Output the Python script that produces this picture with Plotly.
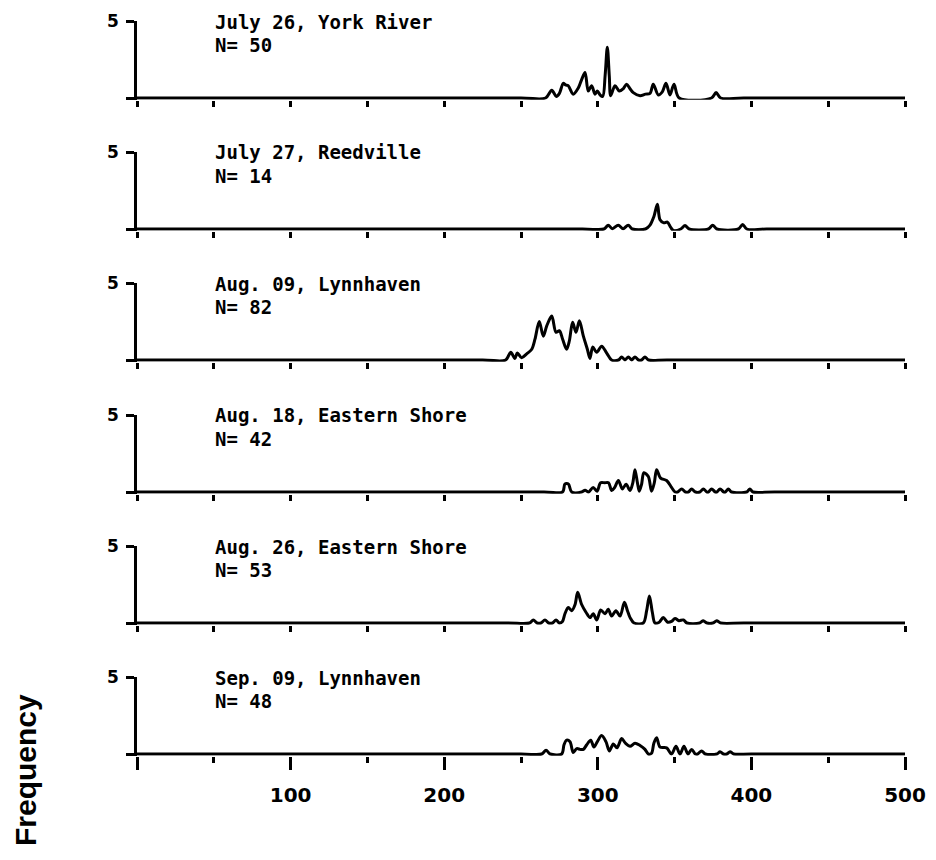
import plotly.graph_objects as go

W, H = 936, 860

# ---------------- data ----------------
titles = ["July 26, York River", "July 27, Reedville", "Aug. 09, Lynnhaven",
          "Aug. 18, Eastern Shore", "Aug. 26, Eastern Shore", "Sep. 09, Lynnhaven"]
n_labels = ["N= 50", "N= 14", "N= 82", "N= 42", "N= 53", "N= 48"]

len1 = [0, 250, 266, 270, 273, 275, 277.5, 279, 280.7, 284, 287.3, 289.5, 291.7, 293.8, 296, 298.2, 299.7,
        301.5, 303.2, 304.8, 306.2, 307.5, 308.4, 311.2, 314, 316.5, 318.8, 321, 323.1, 327.5, 331, 334,
        336.1, 339.4, 342, 344.4, 347, 349.6, 353, 374, 377, 380, 395, 500]
frq1 = [0, 0, 0, 0.5, 0.1, 0.3, 0.95, 0.85, 0.8, 0.25, 0.65, 1.2, 1.65, 0.45, 0.8, 0.25, 0.45,
        0.2, 0.1, 1.5, 3.3, 1.4, 0.15, 0.8, 0.45, 0.6, 0.9, 0.6, 0.35, 0.15, 0.25, 0.3,
        0.9, 0.2, 0.4, 0.95, 0.2, 0.9, 0, 0, 0.35, 0, 0, 0]

len2 = [0, 290, 304, 306.8, 309.5, 313.3, 316.5, 319.8, 322.5, 331, 334, 336.5, 338.8, 340.5, 343, 345.3,
        347.5, 349.2, 354, 356.8, 359.5, 372, 374.8, 377.5, 391.5, 394.3, 397, 410, 500]
frq2 = [0, 0, 0, 0.25, 0.02, 0.25, 0.02, 0.25, 0, 0, 0.25, 0.8, 1.6, 0.6, 0.4, 0.45,
        0.1, -0.1, 0, 0.22, 0, 0, 0.25, 0, 0, 0.3, 0, 0, 0]

len3 = [0, 225, 240, 243.3, 246, 247.6, 250.4, 253.7, 257, 259.1, 261.9, 264.5, 266.7, 270, 272.8, 275,
        277.1, 279.7, 281.5, 283.6, 285.8, 288, 290.6, 293.2, 294.9, 296.7, 299.3, 302.5, 305.8, 309,
        313.5, 315.5, 317.7, 319.9, 322, 324.2, 326.5, 328.5, 330.7, 333, 345, 500]
frq3 = [0, 0, 0, 0.5, 0.1, 0.45, 0.15, 0.4, 0.7, 1.35, 2.5, 1.55, 2.2, 2.85, 1.8, 1.9,
        1.35, 0.7, 1.25, 2.45, 1.8, 2.55, 1.55, 0.7, 0.1, 0.85, 0.5, 0.9, 0.45, 0,
        0, 0.2, 0, 0.2, 0, 0.2, 0, 0, 0.2, 0, 0, 0]

len4 = [0, 265, 277, 278.5, 279.7, 281, 283, 289.5, 291.7, 294, 297, 299.5, 301.8, 304.5, 307, 309, 311,
        313.4, 316, 318.4, 321, 322.8, 324.2, 325.8, 327, 328.5, 330, 332.9, 335, 336.8, 338.3, 340.9,
        344.8, 348, 350.3, 352, 354.6, 357, 359, 361.1, 363.5, 366.5, 368.7, 371, 372, 374.1, 376.5,
        377.5, 379.6, 382, 383, 385, 387, 397, 399, 401, 415, 500]
frq4 = [0, 0, 0, 0.5, 0.55, 0.5, 0, 0, 0.12, 0, 0.3, 0.05, 0.6, 0.6, 0.6, 0.1, 0.3,
        0.75, 0.2, 0.5, 0.1, 0.6, 1.45, 0.6, 0.05, 0.5, 1.25, 1.0, 0.05, 0.6, 1.45, 0.9,
        0.75, 0.3, 0, 0, 0.2, 0, 0, 0.2, 0, 0, 0.2, 0, 0, 0.2, 0,
        0, 0.2, 0, 0, 0.2, 0, 0, 0.2, 0, 0, 0]

len5 = [0, 240, 255.5, 258, 260.5, 263, 265.6, 268, 270.5, 272.8, 275, 277, 278.6, 280.8, 283, 285.2, 286.9,
        289.5, 292.3, 294.9, 297, 299.3, 301.9, 304.7, 306.8, 309, 311.8, 314.5, 317.3, 319.3, 321,
        323.6, 329.6, 331.8, 333.6, 335.5, 337.2, 340, 342.6, 345.5, 348, 350.3, 352.8, 355.7, 358,
        366.3, 368.7, 371, 375, 377.4, 380, 395, 500]
frq5 = [0, 0, 0, 0.2, 0, 0, 0.2, 0, 0, 0.2, 0, 0.1, 0.6, 1.0, 0.8, 1.2, 2.0,
        1.2, 0.7, 0.35, 0.6, 0.2, 0.85, 0.6, 0.9, 0.45, 0.8, 0.45, 1.35, 0.8, 0.35,
        0, 0, 0.8, 1.75, 0.7, 0, 0.05, 0.35, 0.05, 0.1, 0.3, 0.15, 0.2, 0,
        0, 0.15, 0, 0, 0.15, 0, 0, 0]

len6 = [0, 250, 263.5, 266.3, 269, 276.5, 278, 279.7, 281.9, 284, 286.3, 288.5, 290.6, 292.8, 295.4, 297.5,
        299.7, 302.5, 305.3, 307.5, 310.1, 312.5, 315.5, 318, 321, 324.2, 327.5, 330.7, 332.9, 335,
        336.5, 338.3, 340.5, 344.8, 348, 350.9, 353.5, 356.1, 358.7, 361.1, 363.5, 365, 367.6, 370,
        377.5, 379.6, 381.8, 384, 386.1, 388.5, 400, 500]
frq6 = [0, 0, 0, 0.25, 0, 0, 0.6, 0.9, 0.8, 0.1, 0.35, 0.3, 0.3, 0.6, 0.9, 0.45,
        0.8, 1.2, 0.8, 0.2, 0.65, 0.4, 1.0, 0.7, 0.5, 0.7, 0.55, 0.3, 0, 0.05,
        0.7, 1.05, 0.45, 0.4, 0, 0.5, 0, 0.5, 0, 0.3, 0, 0, 0.2, 0,
        0, 0.15, 0, 0, 0.15, 0, 0, 0]

lengths = [len1, len2, len3, len4, len5, len6]
freqs = [frq1, frq2, frq3, frq4, frq5, frq6]

x_tickvals = [0, 100, 200, 300, 400, 500]
x_ticktext = ["", "100", "200", "300", "400", "500"]
y_tickvals = [0, 5]
y_ticktext = ["", "5"]

# ---------------- figure ----------------
fig = go.Figure()
layout = dict(
    width=W, height=H, margin=dict(l=0, r=0, t=0, b=0, pad=0, autoexpand=False),
    paper_bgcolor="white", plot_bgcolor="white", showlegend=False,
)
annotations = []
xdom = [137 / W, 905 / W]
title_font = dict(family="DejaVu Sans Mono", size=19, color="black", weight="bold")
YMIN = -0.12
PX_PER_UNIT = 77 / 5
for k in range(6):
    base_px = round(98 + 131.2 * k)
    top_px = base_px - 77
    bottom_px = base_px - YMIN * PX_PER_UNIT
    sfx = "" if k == 0 else str(k + 1)
    fig.add_trace(go.Scatter(
        x=lengths[k], y=freqs[k], mode="lines",
        line=dict(color="black", width=3, shape="spline", smoothing=0.9),
        xaxis="x" + sfx, yaxis="y" + sfx, hoverinfo="skip"))
    last = (k == 5)
    layout["xaxis" + sfx] = dict(
        domain=xdom, anchor="y" + sfx, range=[0, 500], automargin=False,
        showgrid=False, zeroline=False, showline=False,
        ticks="outside", ticklen=13, tickwidth=2.5, tickcolor="black",
        tickvals=x_tickvals, ticktext=x_ticktext if last else [""] * 6,
        showticklabels=last, ticklabelstandoff=8,
        tickfont=dict(family="DejaVu Sans", size=20, color="black", weight="bold"),
        minor=dict(ticks="outside", ticklen=6, tickwidth=2.5, tickcolor="black", dtick=50, tick0=0),
        fixedrange=True,
    )
    layout["yaxis" + sfx] = dict(
        domain=[1 - bottom_px / H, 1 - top_px / H], anchor="x" + sfx, range=[YMIN, 5],
        automargin=False,
        showgrid=False, zeroline=False, showline=True, linecolor="black", linewidth=2.5,
        ticks="outside", ticklen=8, tickwidth=2.5, tickcolor="black",
        tickvals=y_tickvals, ticktext=y_ticktext, ticklabelstandoff=4,
        tickfont=dict(family="DejaVu Sans", size=17, color="black", weight="bold"),
        fixedrange=True,
    )
    annotations.append(dict(
        xref="paper", yref="paper", x=213 / W, y=1 - (top_px + 0.5) / H, text=titles[k],
        showarrow=False, xanchor="left", yanchor="middle", font=title_font))
    annotations.append(dict(
        xref="paper", yref="paper", x=213 / W, y=1 - (top_px + 24) / H, text=n_labels[k],
        showarrow=False, xanchor="left", yanchor="middle", font=title_font))

annotations.append(dict(
    xref="paper", yref="paper", x=25 / W, y=1 - 770 / H, text="Frequency", showarrow=False,
    textangle=-90, xanchor="center", yanchor="middle",
    font=dict(family="Liberation Sans", size=30, color="black", weight="bold")))

layout["annotations"] = annotations
fig.update_layout(**layout)
fig.write_html("out.html")
